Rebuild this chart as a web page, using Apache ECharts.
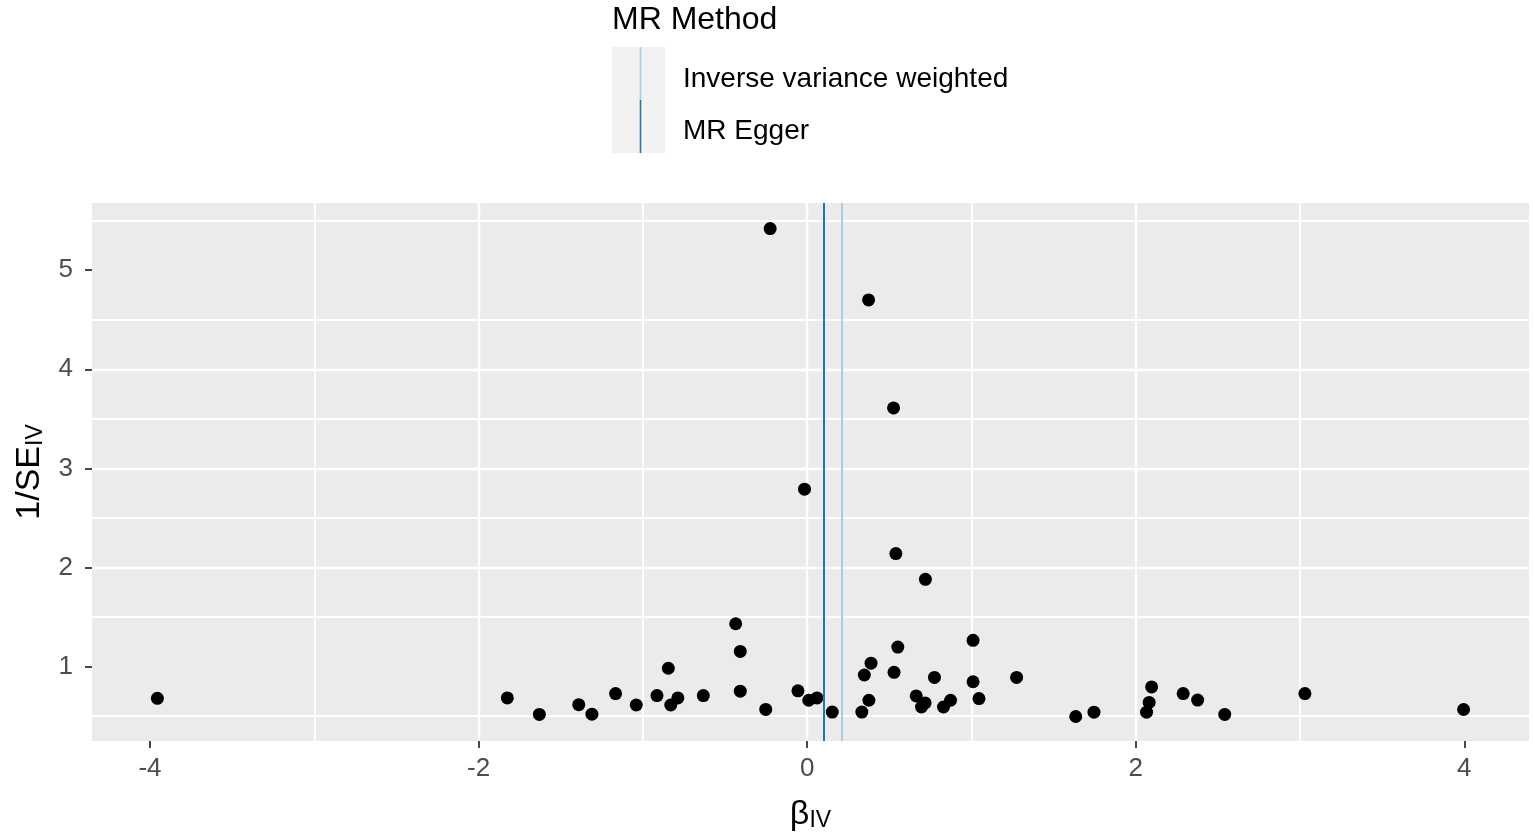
<!DOCTYPE html>
<html>
<head>
<meta charset="utf-8">
<script src="https://cdn.jsdelivr.net/npm/echarts@6/dist/echarts.min.js"></script>
<style>
html,body{margin:0;padding:0;background:#fff;}
#c{width:1535px;height:833px;}
</style>
</head>
<body>
<div id="c"></div>
<script>
// ---- data ----
const beta = [
  -0.225, 0.374, 0.526, -0.016, 0.540, 0.720,
  -1.825, -1.630, -1.390, -1.310, -1.166, -1.040, -0.914, -0.845, -0.830, -0.787,
  -0.632, -0.435, -0.407, -0.407, -0.252, -0.056, 0.010, 0.060, 0.153, 0.333,
  0.348, 0.376, 0.389, 0.529, 0.552, 0.664, 0.696, 0.718, 0.775, 0.830,
  0.873, 1.010, 1.010, 1.046, 1.275,
  1.635, 1.746, 2.097, 2.082, 2.066, 2.289, 2.377, 2.542, 3.030, 3.996,
  -3.955
];
const invSE = [
  5.42, 4.70, 3.61, 2.79, 2.14, 1.88,
  0.684, 0.517, 0.616, 0.520, 0.728, 0.612, 0.707, 0.983, 0.612, 0.684,
  0.707, 1.432, 1.153, 0.752, 0.568, 0.755, 0.660, 0.684, 0.541, 0.541,
  0.915, 0.660, 1.034, 0.942, 1.197, 0.704, 0.592, 0.633, 0.891, 0.592,
  0.660, 1.265, 0.847, 0.677, 0.891,
  0.496, 0.540, 0.795, 0.638, 0.540, 0.728, 0.662, 0.517, 0.728, 0.567,
  0.680
];
const methods = ['Inverse variance weighted', 'MR Egger'];
const methodBeta = [0.208, 0.097];
const xTicks = [-4, -2, 0, 2, 4];
const yTicks = [1, 2, 3, 4, 5];
const legendTitle = 'MR Method';

// ---- styles ----
const FONT = '"Liberation Sans", Arial, sans-serif';
const methodColors = ['#A6CEE3', '#1F78B4'];
const points = beta.map((b, i) => [b, invSE[i]]);

const chart = echarts.init(document.getElementById('c'), null, {renderer: 'canvas'});

const axisCommon = {
  type: 'value',
  axisLine: {show: false, onZero: false},
  axisTick: {show: true, length: 7, lineStyle: {color: '#333333', width: 1.8}},
  splitLine: {show: true, showMinLine: false, showMaxLine: false, lineStyle: {color: '#FFFFFF', width: 2.4}},
  minorTick: {show: false, splitNumber: 2},
  minorSplitLine: {show: true, lineStyle: {color: '#FFFFFF', width: 1.8}},
  nameLocation: 'middle',
  nameTextStyle: {
    rich: {
      a: {fontFamily: FONT, fontSize: 34, color: '#000', verticalAlign: 'bottom', lineHeight: 42},
      b: {fontFamily: FONT, fontSize: 23, color: '#000', verticalAlign: 'bottom', lineHeight: 22}
    }
  }
};

const option = {
  animation: false,
  backgroundColor: '#FFFFFF',
  grid: {left: 92, right: 6, top: 203, bottom: 92, show: true, backgroundColor: '#EBEBEB', borderWidth: 0,
         containLabel: false, outerBoundsMode: 'none'},
  xAxis: Object.assign({}, axisCommon, {
    min: -4.353, max: 4.394,
    name: '{a|β}{b|IV}',
    nameGap: 49,
    axisLabel: {
      customValues: xTicks,
      fontFamily: FONT, fontSize: 26, color: '#4D4D4D', margin: 15,
      formatter: v => String(v)
    },
    axisTick: Object.assign({}, axisCommon.axisTick, {customValues: xTicks})
  }),
  yAxis: Object.assign({}, axisCommon, {
    min: 0.249, max: 5.678,
    name: '{a|1/SE}{b|IV}',
    nameGap: 45,
    axisLabel: {
      customValues: yTicks,
      fontFamily: FONT, fontSize: 26, color: '#4D4D4D', margin: 19,
      formatter: v => String(v)
    },
    axisTick: Object.assign({}, axisCommon.axisTick, {customValues: yTicks})
  }),
  series: [
    {
      type: 'scatter',
      data: points,
      symbol: 'circle',
      symbolSize: 13,
      itemStyle: {color: '#000000', opacity: 1},
      z: 3,
      silent: true
    },
    {
      type: 'line',
      name: methods[0],
      data: [],
      z: 5,
      markLine: {
        silent: true, symbol: 'none', animation: false,
        label: {show: false},
        lineStyle: {color: methodColors[0], width: 2, type: 'solid', opacity: 1},
        data: [{xAxis: methodBeta[0]}]
      }
    },
    {
      type: 'line',
      name: methods[1],
      data: [],
      z: 5,
      markLine: {
        silent: true, symbol: 'none', animation: false,
        label: {show: false},
        lineStyle: {color: methodColors[1], width: 2, type: 'solid', opacity: 1},
        data: [{xAxis: methodBeta[1]}]
      }
    }
  ],
  graphic: [
    {type: 'text', x: 612, y: 20, style: {text: legendTitle, font: '32px ' + FONT, fill: '#000', verticalAlign: 'middle'}},
    {type: 'rect', shape: {x: 612, y: 47, width: 53, height: 106}, style: {fill: '#F2F2F2'}},
    {type: 'line', shape: {x1: 640.5, y1: 47, x2: 640.5, y2: 100}, style: {stroke: methodColors[0], lineWidth: 1.6}},
    {type: 'line', shape: {x1: 640.5, y1: 100, x2: 640.5, y2: 153}, style: {stroke: methodColors[1], lineWidth: 1.6}},
    {type: 'text', x: 683, y: 79, style: {text: methods[0], font: '28px ' + FONT, fill: '#000', verticalAlign: 'middle'}},
    {type: 'text', x: 683, y: 131, style: {text: methods[1], font: '28px ' + FONT, fill: '#000', verticalAlign: 'middle'}}
  ]
};
chart.setOption(option);
</script>
</body>
</html>
